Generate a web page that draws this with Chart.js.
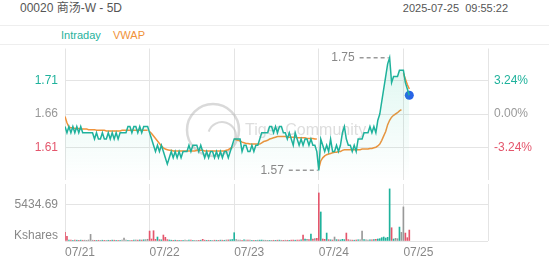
<!DOCTYPE html>
<html>
<head>
<meta charset="utf-8">
<script src="https://cdn.jsdelivr.net/npm/chart.js@4.4.1/dist/chart.umd.min.js"></script>
<style>
  body { margin: 0; width: 552px; height: 265px; background: #fff; position: relative; overflow: hidden;
         font-family: "Liberation Sans", Arial, "Noto Sans CJK SC", sans-serif; }
  .hdr { position: absolute; top: 1px; font-size: 11px; line-height: 14px; color: #555; white-space: pre; }
  #band { position: absolute; left: 0; top: 25px; width: 549px; height: 18px;
          border-top: 1px solid #eee; border-bottom: 1px solid #eee; font-size: 11px; line-height: 18px; }
  #band span { position: absolute; top: 0; }
  canvas { position: absolute; left: 0; }
</style>
</head>
<body>
<div class="hdr" style="left:20px;font-size:12px">00020 商汤-W - 5D</div>
<div class="hdr" style="right:44px">2025-07-25  09:55:22</div>
<div id="band"><span style="left:61px;color:#1fb29c">Intraday</span><span style="left:113px;color:#f0923a">VWAP</span></div>
<canvas id="priceChart" width="552" height="140" style="top:44px"></canvas>
<canvas id="volChart" width="552" height="81" style="top:184px"></canvas>
<script>
// 5 trading days, each sampled into 43 slots
const dates = ['07/21', '07/22', '07/23', '07/24', '07/25'];
const slotsPerDay = 43;
const prevClose = 1.66;
const pctTicks = [-3.24, 0, 3.24];
const volTick = 5434.69;
const volAxisMax = 8600;

const day1Price = [1.64,1.63,1.64,1.63,1.64,1.63,1.64,1.63,1.64,1.63,
                   1.63,1.63,1.63,1.63,1.63,1.62,1.63,1.62,1.62,1.63,
                   1.62,1.62,1.63,1.62,1.63,1.62,1.63,1.62,1.63,1.63,
                   1.63,1.63,1.64,1.64,1.63,1.64,1.64,1.63,1.64,1.63,
                   1.64,1.64,1.64];
const day2Price = [1.63,1.62,1.61,1.60,1.61,1.60,1.61,1.60,1.59,1.58,
                   1.59,1.60,1.59,1.60,1.59,1.60,1.59,1.60,1.60,1.60,
                   1.61,1.60,1.61,1.61,1.61,1.60,1.61,1.60,1.59,1.60,
                   1.59,1.60,1.60,1.59,1.60,1.59,1.60,1.59,1.60,1.60,
                   1.59,1.60,1.61];
const day3Price = [1.62,1.62,1.62,1.62,1.60,1.61,1.61,1.60,1.60,1.61,
                   1.60,1.61,1.61,1.62,1.63,1.63,1.63,1.63,1.64,1.64,
                   1.63,1.64,1.63,1.64,1.64,1.63,1.63,1.62,1.63,1.62,
                   1.61,1.63,1.62,1.61,1.62,1.61,1.62,1.62,1.61,1.62,
                   1.61,1.61,1.60];
const day4Price = [1.57,1.62,1.61,1.60,1.61,1.60,1.62,1.60,1.60,1.61,
                   1.60,1.61,1.63,1.64,1.62,1.61,1.61,1.60,1.61,1.60,
                   1.62,1.62,1.62,1.63,1.63,1.63,1.64,1.63,1.64,1.63,
                   1.65,1.66,1.68,1.70,1.72,1.74,1.75,1.71,1.72,1.72,
                   1.72,1.73,1.73];
const day5Price = [1.73,1.71,1.70,1.69];

const day1Vwap = [1.656,1.646,1.639,1.638,1.638,1.637,1.637,1.637,1.636,1.636,
                  1.636,1.636,1.635,1.635,1.635,1.635,1.634,1.634,1.634,1.634,
                  1.634,1.633,1.633,1.633,1.633,1.633,1.633,1.633,1.633,1.634,
                  1.634,1.634,1.634,1.634,1.634,1.634,1.634,1.634,1.634,1.634,
                  1.634,1.634,1.634];
const day2Vwap = [1.632,1.629,1.625,1.621,1.617,1.613,1.609,1.606,1.604,1.603,
                  1.602,1.602,1.601,1.601,1.601,1.601,1.601,1.601,1.601,1.601,
                  1.601,1.601,1.601,1.601,1.602,1.602,1.602,1.602,1.601,1.601,
                  1.601,1.601,1.601,1.601,1.601,1.601,1.601,1.601,1.601,1.602,
                  1.603,1.605,1.607];
const day3Vwap = [1.620,1.619,1.618,1.617,1.615,1.614,1.613,1.613,1.612,1.612,
                  1.612,1.612,1.612,1.612,1.614,1.616,1.617,1.618,1.620,1.621,
                  1.622,1.623,1.624,1.624,1.624,1.624,1.624,1.623,1.623,1.623,
                  1.623,1.623,1.622,1.622,1.622,1.622,1.622,1.621,1.621,1.621,
                  1.621,1.620,1.620];
const day4Vwap = [1.573,1.585,1.590,1.593,1.595,1.596,1.597,1.598,1.599,1.599,
                  1.600,1.600,1.602,1.603,1.603,1.603,1.603,1.603,1.603,1.603,
                  1.603,1.603,1.604,1.604,1.604,1.604,1.605,1.605,1.606,1.607,
                  1.609,1.612,1.618,1.625,1.632,1.643,1.650,1.655,1.658,1.660,
                  1.662,1.665,1.667];
const day5Vwap = [1.725,1.716,1.707,1.700];

const day1Vol = [1300,700,150,120,100,150,120,100,130,110,
                 120,100,150,1000,120,100,90,110,100,120,
                 100,90,110,100,130,120,100,90,110,120,
                 450,130,110,100,90,120,150,130,160,140,
                 180,200,260];
const day2Vol = [1500,300,1550,250,600,200,180,900,550,200,
                 150,120,100,120,110,100,90,100,120,110,
                 130,120,110,100,90,100,120,250,120,100,
                 110,100,90,120,110,100,130,120,110,150,
                 160,180,220];
const day3Vol = [1250,200,150,120,100,160,140,130,120,110,
                 100,110,120,130,140,120,110,100,90,100,
                 110,100,120,130,110,100,120,110,100,130,
                 140,120,150,130,160,900,300,250,200,1050,
                 300,350,400];
const day4Vol = [7250,4380,300,250,1200,200,180,150,600,200,
                 180,160,250,200,1200,200,150,130,120,150,
                 160,180,1500,200,180,150,160,170,200,250,
                 300,350,500,600,450,550,7860,2000,300,400,
                 350,2100,1300];
const day5Vol = [5140,1200,500,1650];

const dayPrices = [day1Price, day2Price, day3Price, day4Price, day5Price];
const dayVwaps = [day1Vwap, day2Vwap, day3Vwap, day4Vwap, day5Vwap];
const dayVols = [day1Vol, day2Vol, day3Vol, day4Vol, day5Vol];

const UP = '#1fb29c', DOWN = '#e4566c', FLAT = '#999999', VWAP = '#f0923a', GRID = '#e4e4e4';
const FONT = '"Liberation Sans", Arial, sans-serif';

const pricePts = [], vwapPts = [], volPts = [], volColors = [];
let lastPrice = prevClose;
dayPrices.forEach((arr, d) => {
  arr.forEach((p, i) => {
    const x = d * slotsPerDay + i;
    pricePts.push({x: x, y: p});
    vwapPts.push({x: x, y: dayVwaps[d][i]});
    volPts.push({x: x, y: dayVols[d][i]});
    volColors.push(p > lastPrice ? UP : (p < lastPrice ? DOWN : FLAT));
    lastPrice = p;
  });
  vwapPts.push({x: d * slotsPerDay + arr.length - 0.5, y: null});
});
const lastPt = pricePts[pricePts.length - 1];

let maxDev = 0;
pricePts.forEach(p => { maxDev = Math.max(maxDev, Math.abs(p.y - prevClose)); });
const half = maxDev * 1.162;
const priceTicks = pctTicks.map(v => prevClose * (1 + v / 100));
const xMax = dates.length * slotsPerDay;
const dayTicks = dates.map((d, i) => i * slotsPerDay).concat([xMax]);
const noBorder = {display: false, width: 0, color: 'rgba(0,0,0,0)'};

function tickColor(c) {
  const v = c.tick ? c.tick.value : prevClose;
  if (v > prevClose + 1e-6) return UP;
  if (v < prevClose - 1e-6) return DOWN;
  return '#999';
}

// dashed markers for the highest and lowest price
const extremes = {
  id: 'extremes',
  afterDatasetsDraw(chart) {
    const {ctx, scales} = chart;
    const pts = chart.data.datasets[0].data;
    let hi = pts[0], lo = pts[0];
    pts.forEach(p => { if (p.y > hi.y) hi = p; if (p.y < lo.y) lo = p; });
    [hi, lo].forEach(p => {
      const px = scales.x.getPixelForValue(p.x), py = scales.y.getPixelForValue(p.y);
      ctx.save();
      ctx.strokeStyle = '#999'; ctx.lineWidth = 1.5; ctx.setLineDash([4, 3]);
      ctx.beginPath(); ctx.moveTo(px - 30, py); ctx.lineTo(px - 1, py); ctx.stroke();
      ctx.fillStyle = '#888'; ctx.font = '12px ' + FONT;
      ctx.textAlign = 'right'; ctx.textBaseline = 'middle';
      ctx.fillText(p.y.toFixed(2), px - 35, py);
      ctx.restore();
    });
  }
};

const watermark = {
  id: 'watermark',
  beforeDatasetsDraw(chart) {
    const ctx = chart.ctx;
    ctx.save();
    ctx.strokeStyle = 'rgba(170,170,170,0.45)';
    ctx.lineWidth = 2.5;
    ctx.beginPath(); ctx.arc(213, 86, 26, 0, Math.PI * 2); ctx.stroke();
    ctx.lineWidth = 2;
    ctx.beginPath(); ctx.arc(222, 92, 14, Math.PI * 1.1, Math.PI * 2.1); ctx.stroke();
    ctx.fillStyle = 'rgba(170,170,170,0.4)';
    ctx.font = '16px ' + FONT;
    ctx.textBaseline = 'middle';
    ctx.fillText('Tiger Community', 245, 87);
    ctx.restore();
  }
};

new Chart(document.getElementById('priceChart'), {
  type: 'line',
  data: {
    datasets: [{
      data: pricePts,
      borderColor: UP,
      borderWidth: 1.5,
      pointRadius: 0,
      tension: 0,
      fill: 'start',
      backgroundColor: (c) => {
        const {ctx, chartArea} = c.chart;
        if (!chartArea) return 'transparent';
        const g = ctx.createLinearGradient(0, chartArea.top, 0, chartArea.bottom);
        g.addColorStop(0, 'rgba(40,200,160,0.16)');
        g.addColorStop(1, 'rgba(40,200,160,0.0)');
        return g;
      }
    }, {
      data: vwapPts,
      borderColor: VWAP,
      borderWidth: 1.5,
      pointRadius: 0,
      tension: 0,
      spanGaps: false,
      fill: false
    }, {
      data: [lastPt],
      showLine: false,
      pointRadius: 4.5,
      pointBackgroundColor: '#2864e6',
      pointBorderWidth: 0
    }]
  },
  options: {
    responsive: false,
    animation: false,
    devicePixelRatio: 1,
    layout: {padding: 0},
    plugins: {legend: {display: false}, tooltip: {enabled: false}},
    scales: {
      x: {
        type: 'linear', min: 0, max: xMax,
        afterBuildTicks: (s) => { s.ticks = dayTicks.map(v => ({value: v})); },
        afterFit: (s) => { s.height = 0; s.paddingLeft = 0; s.paddingRight = 0; },
        ticks: {display: false},
        grid: {color: GRID, drawTicks: false, tickLength: 0},
        border: noBorder
      },
      y: {
        position: 'left',
        min: prevClose - half, max: prevClose + half,
        afterBuildTicks: (s) => { s.ticks = priceTicks.map(v => ({value: v})); },
        afterFit: (s) => { s.width = 65; s.paddingTop = 0; s.paddingBottom = 0; },
        ticks: {callback: (v) => v.toFixed(2), color: tickColor, padding: 7, font: {size: 12, family: FONT}},
        grid: {color: GRID, drawTicks: false},
        border: noBorder
      },
      pct: {
        position: 'right',
        min: prevClose - half, max: prevClose + half,
        afterBuildTicks: (s) => { s.ticks = priceTicks.map(v => ({value: v})); },
        afterFit: (s) => { s.width = 64; s.paddingTop = 0; s.paddingBottom = 0; },
        ticks: {callback: (v, i) => pctTicks[i].toFixed(2) + '%', color: tickColor, padding: 6, font: {size: 12, family: FONT}},
        grid: {display: false, drawTicks: false},
        border: noBorder
      }
    }
  },
  plugins: [watermark, extremes]
});

const unitLabel = {
  id: 'unitLabel',
  afterDraw(chart) {
    const {ctx, scales} = chart;
    ctx.save();
    ctx.fillStyle = '#888'; ctx.font = '12px ' + FONT;
    ctx.textAlign = 'right'; ctx.textBaseline = 'middle';
    ctx.fillText('Kshares', 58, scales.y.bottom - 5);
    ctx.restore();
  }
};

new Chart(document.getElementById('volChart'), {
  type: 'bar',
  data: {
    datasets: [{
      data: volPts,
      backgroundColor: volColors,
      barThickness: 1
    }]
  },
  options: {
    responsive: false,
    animation: false,
    devicePixelRatio: 1,
    layout: {padding: {right: 64}},
    plugins: {legend: {display: false}, tooltip: {enabled: false}},
    scales: {
      x: {
        type: 'linear', min: 0, max: xMax, offset: false,
        afterBuildTicks: (s) => { s.ticks = dayTicks.map(v => ({value: v})); },
        afterFit: (s) => { s.height = 24; s.paddingLeft = 0; s.paddingRight = 0; },
        ticks: {
          autoSkip: false, maxRotation: 0, align: 'start', padding: 4,
          color: '#888', font: {size: 12, family: FONT},
          callback: (v) => { const i = v / slotsPerDay; return i < dates.length ? dates[i] : ''; }
        },
        grid: {color: GRID, drawTicks: false, offset: false},
        border: noBorder
      },
      y: {
        min: 0, max: volAxisMax,
        afterBuildTicks: (s) => { s.ticks = [{value: 0}, {value: volTick}]; },
        afterFit: (s) => { s.width = 65; s.paddingTop = 0; s.paddingBottom = 0; },
        ticks: {callback: (v) => v === 0 ? '' : v.toFixed(2), color: '#888', padding: 7, font: {size: 12, family: FONT}},
        grid: {color: (c) => (c.tick && c.tick.value > volTick) ? 'rgba(0,0,0,0)' : GRID, drawTicks: false},
        border: noBorder
      }
    }
  },
  plugins: [unitLabel]
});
</script>
</body>
</html>
